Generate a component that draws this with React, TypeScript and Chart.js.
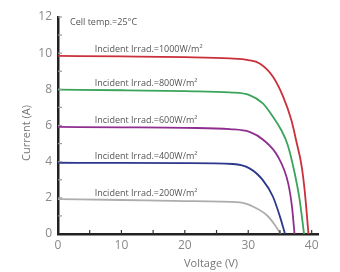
import React, { useEffect, useRef } from "react";
import { Chart, registerables } from "chart.js";

Chart.register(...registerables);

// Data (Voltage V, Current A)
const v1000 = [0, 10, 20, 27.1, 30, 31.8, 33.9, 35.5, 36.8, 37.6, 38.4, 38.9, 39.5];
const i1000 = [9.85, 9.82, 9.78, 9.71, 9.62, 9.43, 8.7, 7.6, 6.3, 5.1, 3.8, 2.4, 0];
const v800 = [0, 10, 20, 27.1, 30.2, 32.3, 33.9, 35.2, 36.2, 37.3, 38.1, 38.8];
const i800 = [7.98, 7.95, 7.9, 7.83, 7.68, 7.22, 6.48, 5.75, 4.95, 3.4, 1.9, 0];
const v600 = [0, 10, 20, 27.1, 30.2, 32.4, 34.7, 36.3, 36.9, 37.3];
const i600 = [5.92, 5.9, 5.87, 5.8, 5.65, 5.2, 4.27, 2.8, 1.5, 0];
const v400 = [0, 10, 20, 27.6, 30.2, 32.3, 33.9, 35, 35.8];
const i400 = [3.94, 3.93, 3.92, 3.87, 3.63, 2.98, 2.06, 0.96, 0];
const v200 = [0, 10, 20, 28.7, 30.8, 32.9, 34.2, 35.1];
const i200 = [1.93, 1.88, 1.82, 1.75, 1.51, 1.05, 0.5, 0];

const seriesLabels = [
  "Incident Irrad.=1000W/m²",
  "Incident Irrad.=800W/m²",
  "Incident Irrad.=600W/m²",
  "Incident Irrad.=400W/m²",
  "Incident Irrad.=200W/m²",
];
const seriesColors = ["#c9303a", "#3ba45c", "#902e90", "#2c388c", "#adadad"];
const xTickValues = [0, 5, 10, 15, 20, 25, 30, 35, 40];
const yTickValues = [0, 2, 4, 6, 8, 10, 12];
const xTitle = "Voltage (V)";
const yTitle = "Current (A)";
const noteText = "Cell temp.=25°C";

const toPts = (xs: number[], ys: number[]) => xs.map((x, k) => ({ x, y: ys[k] }));

export default function App() {
  const ref = useRef<HTMLCanvasElement | null>(null);

  useEffect(() => {
    document.body.style.margin = "0";
    const canvas = ref.current;
    if (!canvas) return;

    const xs = [v1000, v800, v600, v400, v200];
    const ys = [i1000, i800, i600, i400, i200];
    const labelY = [10.2, 8.3, 6.3, 4.3, 2.25];

    const overlay = {
      id: "overlay",
      afterDraw(chart: any) {
        const ctx = chart.ctx;
        const xs_ = chart.scales.x;
        const ys_ = chart.scales.y;
        const area = chart.chartArea;
        ctx.save();
        // inner tick marks
        ctx.strokeStyle = "#333";
        ctx.lineWidth = 1.2;
        for (let v = 5; v <= 40; v += 5) {
          const px = xs_.getPixelForValue(v);
          ctx.beginPath();
          ctx.moveTo(px, area.bottom);
          ctx.lineTo(px, area.bottom - 4);
          ctx.stroke();
        }
        ctx.strokeStyle = "#999";
        for (let v = 1; v <= 12; v += 1) {
          const py = ys_.getPixelForValue(v);
          ctx.beginPath();
          ctx.moveTo(area.left, py);
          ctx.lineTo(area.left + 4, py);
          ctx.stroke();
        }
        // annotations
        ctx.fillStyle = "#555";
        ctx.font = "9px 'Open Sans'";
        ctx.textBaseline = "middle";
        ctx.textAlign = "left";
        seriesLabels.forEach((t, k) => {
          ctx.fillText(t, xs_.getPixelForValue(5.8), ys_.getPixelForValue(labelY[k]));
        });
        ctx.fillText(noteText, xs_.getPixelForValue(1.9), ys_.getPixelForValue(11.7));
        // axis titles
        ctx.fillStyle = "#777";
        ctx.font = "11px 'Open Sans'";
        ctx.textAlign = "center";
        ctx.fillText(xTitle, 211, 264);
        ctx.translate(27, 133);
        ctx.rotate(-Math.PI / 2);
        ctx.fillText(yTitle, 0, 0);
        ctx.restore();
      },
    };

    const chart = new Chart(canvas, {
      type: "line",
      data: {
        datasets: xs.map((x, k) => ({
          label: seriesLabels[k],
          data: toPts(x, ys[k]),
          borderColor: seriesColors[k],
          borderWidth: 1.8,
          pointRadius: 0,
          fill: false,
          cubicInterpolationMode: "monotone" as const,
        })),
      },
      options: {
        animation: false,
        responsive: false,
        layout: { padding: { top: 17, right: 22, left: 0, bottom: 0 } },
        plugins: { legend: { display: false }, tooltip: { enabled: false } },
        scales: {
          x: {
            type: "linear",
            min: 0,
            max: 41,
            afterBuildTicks: (s: any) => {
              s.ticks = xTickValues.map((value) => ({ value }));
            },
            afterFit: (s: any) => {
              s.height = 38;
            },
            grid: { display: false, drawTicks: false },
            border: { display: true, color: "#222", width: 2.5 },
            ticks: {
              padding: 4,
              color: "#888",
              font: { family: "'Open Sans'", size: 12 },
              maxRotation: 0,
              autoSkip: false,
              callback: (v: any) => (Number(v) % 10 === 0 ? String(v) : ""),
            },
          },
          y: {
            type: "linear",
            min: 0,
            max: 12,
            afterBuildTicks: (s: any) => {
              s.ticks = yTickValues.map((value) => ({ value }));
            },
            afterFit: (s: any) => {
              s.width = 58;
            },
            grid: { display: false, drawTicks: false },
            border: { display: true, color: "#222", width: 2.5 },
            ticks: {
              padding: 6,
              color: "#888",
              font: { family: "'Open Sans'", size: 12 },
            },
          },
        },
      },
      plugins: [overlay],
    });
    return () => chart.destroy();
  }, []);

  return (
    <div style={{ position: "absolute", left: 0, top: 0, width: 340, height: 272, background: "#fff" }}>
      <canvas ref={ref} width={340} height={272} style={{ width: 340, height: 272 }} />
    </div>
  );
}
